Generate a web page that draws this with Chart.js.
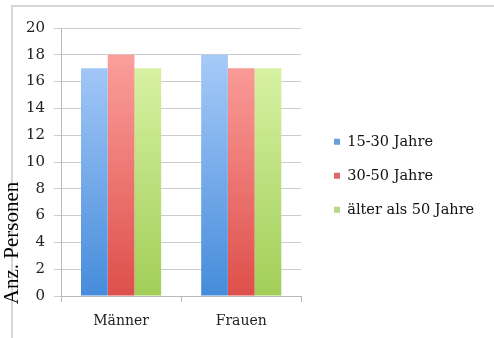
<!DOCTYPE html>
<html>
<head>
<meta charset="utf-8">
<script src="https://cdn.jsdelivr.net/npm/chart.js@4.4.0/dist/chart.umd.min.js"></script>
<style>
  html, body { margin: 0; padding: 0; background: #fff; }
  #wrap { position: relative; width: 494px; height: 338px; overflow: hidden; }
  #frame { position: absolute; left: 11px; top: 5px; right: 0; bottom: 0;
           border-top: 2px solid #d6d6d6; border-left: 2px solid #d6d6d6; }
  canvas { position: absolute; left: 0; top: 0; }
</style>
</head>
<body>
<div id="wrap">
  <div id="frame"></div>
  <canvas id="chart" width="494" height="338"></canvas>
</div>
<script>
// data
const categories = ['Männer', 'Frauen'];
const seriesNames = ['15-30 Jahre', '30-50 Jahre', 'älter als 50 Jahre'];
const age15to30 = [17, 18];
const age30to50 = [18, 17];
const ageOver50 = [17, 17];
const yMin = 0;
const yMax = 20;
const yStep = 2;
const yTitle = 'Anz. Personen';

// colours: light top, darker bottom, plus a solid one for the legend
const blue = { top: '#a9ccf9', bottom: '#468cdb', solid: '#6a9fdc' };
const red = { top: '#fca19d', bottom: '#de4f4a', solid: '#e0686a' };
const green = { top: '#dbf4a9', bottom: '#a1ce57', solid: '#b9d986' };

function barFill(c) {
  return (ctx) => {
    const area = ctx.chart.chartArea;
    if (!area) return c.bottom;
    const g = ctx.chart.ctx.createLinearGradient(0, area.top + 20, 0, area.bottom);
    g.addColorStop(0, c.top);
    g.addColorStop(1, c.bottom);
    return g;
  };
}

const solids = [blue.solid, red.solid, green.solid];

// y title sits lower than the axis centre in the original, so draw it by hand
const yTitlePlugin = {
  id: 'yTitle',
  afterDraw(chart) {
    const c = chart.ctx;
    c.save();
    c.translate(12, 243);
    c.rotate(-Math.PI / 2);
    c.font = '21px "Liberation Serif"';
    c.fillStyle = '#000';
    c.textAlign = 'center';
    c.textBaseline = 'middle';
    c.fillText(yTitle, 0, 0);
    c.restore();
  }
};

// move the legend block to where it stands in the original
const legendPlace = {
  id: 'legendPlace',
  afterLayout(chart) {
    const lg = chart.legend;
    const w = lg.right - lg.left;
    lg.left = 314.5;
    lg.right = lg.left + w;
    lg.top = 115;
    lg.bottom = 338;
  }
};

new Chart(document.getElementById('chart'), {
  type: 'bar',
  data: {
    labels: categories,
    datasets: [
      { label: seriesNames[0], data: age15to30, backgroundColor: barFill(blue) },
      { label: seriesNames[1], data: age30to50, backgroundColor: barFill(red) },
      { label: seriesNames[2], data: ageOver50, backgroundColor: barFill(green) }
    ]
  },
  options: {
    responsive: false,
    animation: false,
    devicePixelRatio: 1,
    layout: { padding: { top: 28, right: 23, bottom: 0, left: 0 } },
    datasets: { bar: { categoryPercentage: 0.667, barPercentage: 1.0 } },
    scales: {
      x: {
        afterFit(scale) { scale.height = 42; },
        grid: { offset: true, drawOnChartArea: false, drawTicks: true, tickLength: 6, color: '#b8b8b8' },
        border: { display: true, color: '#b8b8b8' },
        ticks: { color: '#222', padding: 11, font: { family: 'DejaVu Serif', size: 14 } }
      },
      y: {
        min: yMin,
        max: yMax,
        afterFit(scale) { scale.width = 61; },
        ticks: { stepSize: yStep, color: '#222', padding: 9, font: { family: 'DejaVu Serif', size: 15 } },
        grid: { color: '#cccccc', tickLength: 7 },
        border: { display: true, color: '#b8b8b8' }
      }
    },
    plugins: {
      tooltip: { enabled: false },
      legend: {
        position: 'right',
        align: 'start',
        maxWidth: 240,
        labels: {
          boxWidth: 6,
          boxHeight: 6,
          padding: 19.5,
          color: '#111',
          font: { family: 'DejaVu Serif', size: 14.5 },
          generateLabels(chart) {
            const items = Chart.defaults.plugins.legend.labels.generateLabels(chart);
            items.forEach((it, i) => {
              it.fillStyle = solids[i];
              it.strokeStyle = solids[i];
              it.lineWidth = 0;
            });
            return items;
          }
        }
      }
    }
  },
  plugins: [legendPlace, yTitlePlugin]
});
</script>
</body>
</html>
